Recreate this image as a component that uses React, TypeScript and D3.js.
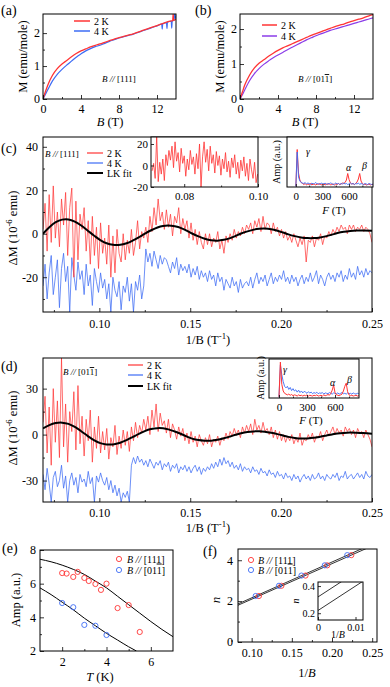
import React, { useEffect, useRef } from 'react';
import * as d3 from 'd3';

const W = 390;
const H = 687;
const FONT = '"Liberation Serif", "Times New Roman", Times, serif';
const RED = '#ff3434';
const BLUE = '#3d6cf5';
const PURPLE = '#8b3de8';

// (a) M(B) for B // [111]
const fieldA2K = [0, 0.25, 0.5, 1, 1.5, 2, 2.5, 3, 3.5, 4, 4.5, 5, 5.5, 6, 6.5, 7, 7.5, 8, 8.5, 9, 9.5, 10, 10.5, 11, 11.5, 12, 12.5, 13, 13.5, 13.65, 13.7, 13.75, 14];
const mA2K = [0, 0.22, 0.42, 0.72, 0.92, 1.06, 1.17, 1.28, 1.38, 1.46, 1.52, 1.58, 1.63, 1.67, 1.72, 1.77, 1.82, 1.86, 1.9, 1.94, 1.98, 2.03, 2.08, 2.13, 2.18, 2.23, 2.28, 2.33, 2.37, 2.38, 2.58, 2.39, 2.42];
const fieldA4K = [0, 0.25, 0.5, 1, 1.5, 2, 2.5, 3, 3.5, 4, 4.5, 5, 5.5, 6, 6.5, 7, 7.5, 8, 8.5, 9, 9.5, 10, 10.5, 11, 11.5, 12, 12.5, 12.55, 12.6, 13, 13.05, 13.1, 13.5, 13.55, 13.6, 13.8, 13.85, 14];
const mA4K = [0, 0.14, 0.28, 0.55, 0.75, 0.9, 1.03, 1.15, 1.27, 1.37, 1.46, 1.53, 1.59, 1.63, 1.69, 1.75, 1.8, 1.85, 1.89, 1.93, 1.97, 2.02, 2.07, 2.12, 2.17, 2.22, 2.27, 2.12, 2.28, 2.32, 2.14, 2.33, 2.36, 2.15, 2.37, 2.39, 2.58, 2.41];

// (b) M(B) for B // [01-1]
const fieldB = [0, 0.25, 0.5, 1, 1.5, 2, 2.5, 3, 3.5, 4, 4.5, 5, 5.5, 6, 6.5, 7, 7.5, 8, 8.5, 9, 9.5, 10, 10.5, 11, 11.5, 12, 12.5, 13, 13.5, 14];
const mB2K = [0, 0.2, 0.4, 0.68, 0.88, 1.02, 1.12, 1.22, 1.31, 1.39, 1.46, 1.52, 1.58, 1.64, 1.7, 1.76, 1.82, 1.87, 1.92, 1.97, 2.02, 2.07, 2.11, 2.15, 2.2, 2.24, 2.28, 2.32, 2.37, 2.41];
const mB4K = [0, 0.12, 0.26, 0.52, 0.72, 0.87, 0.99, 1.09, 1.18, 1.26, 1.33, 1.41, 1.48, 1.55, 1.62, 1.69, 1.75, 1.81, 1.86, 1.91, 1.96, 2.0, 2.04, 2.08, 2.12, 2.16, 2.2, 2.24, 2.28, 2.32];

// (c), (d) oscillating part, sampled evenly in 1/B
const invBStart = 0.069;
const invBEnd = 0.25;
const dmC2K = [
  2, 14, -8, 18, -4, 22, -2, 10, -6, 16,
  4, 19, -10, 12, 21, -20, 15, -12, 9, 2,
  12, -8, 6, -14, 8, -10, 3, -16, 5, -9,
  -2, -14, 4, -20, -1, -18, 2, -9, -13, 0,
  -12, -3, -9, 2, -10, -4, 6, -7, 1, -2,
  3, -4, 8, 1, 12, 4, 16, 6, 10, 2,
  11, 3, 9, -1, 8, 5, 12, 0, 7, 2,
  6, -2, 5, -3, 2, -5, 1, -4, -7, 0,
  -5, 0, -6, -2, -4, 1, -7, -3, -9, -1,
  -4, 0, -3, 2, -2, 1, -1, 3, 0, 4,
  2, 5, 0, 6, 3, 7, 1, 8, 2, 5,
  4, 0, 5, 1, 3, -1, 2, -2, 1, -3,
  -1, -4, 0, -3, -6, -2, -5, -1, -13, -3,
  -4, -1, -6, -2, -3, 0, -5, -1, -2, 1,
  -1, 2, 0, 3, 1, 4, 2, 3, 0, 4,
  2, 4, 1, 3, 2, 4, 1, 3, 2, 0, -4,
];
const dmC4K = [
  -24, -14, -30, -18, -10, -28, -20, -12, -34, -16,
  -9, -22, -15, -36, -11, -19, -26, -13, -21, -17,
  -28, -14, -24, -19, -33, -16, -22, -27, -18, -25,
  -21, -30, -23, -36, -20, -26, -29, -22, -35, -24,
  -27, -20, -31, -23, -36, -22, -26, -19, -30, -24,
  -7, -13, -9, -15, -8, -12, -16, -10, -14, -11,
  -12, -15, -18, -13, -16, -11, -19, -14, -17, -15,
  -18, -14, -20, -16, -19, -15, -21, -17, -20, -18,
  -22, -17, -21, -19, -24, -18, -22, -20, -26, -21,
  -23, -25, -20, -24, -22, -27, -21, -25, -23, -22,
  -24, -20, -25, -21, -18, -23, -20, -22, -19, -24,
  -21, -18, -23, -20, -22, -19, -21, -17, -22, -20,
  -23, -19, -22, -20, -24, -21, -19, -23, -20, -22,
  -18, -22, -20, -17, -23, -19, -21, -24, -20, -18,
  -21, -19, -22, -18, -20, -17, -22, -19, -21, -16,
  -20, -18, -21, -15, -19, -17, -20, -16, -19, -17, -18,
];
const dmD2K = [
  8, 25, -12, 18, -20, 30, -5, 22, -15, 50,
  -8, 20, -18, 15, 2, 28, -10, 32, -6, 12,
  -14, 10, -4, 16, -18, 5, -9, 12, -12, 2,
  -10, 4, -16, -2, -8, 6, -13, -1, -9, 3,
  -7, 2, -11, 5, -4, 8, -2, 6, 1, 10,
  3, 12, 0, 16, 5, 20, 2, 14, 6, 9,
  1, 10, -2, 7, 3, -3, 5, -1, 4, -4,
  1, -6, 2, -5, -1, -8, 0, -4, -7, -2,
  -6, 0, -8, -3, -5, -1, -7, -2, -4, 1,
  -3, 2, -1, 4, 0, 3, -2, 5, 1, 6,
  2, 7, 0, 10, 3, 6, 1, 8, 2, 4,
  0, 5, -2, 3, -3, 2, -4, 0, -5, -1,
  -4, 0, -6, -2, -5, 1, -7, -3, -4, 0,
  -3, 1, -5, -1, -2, 2, -4, 0, 3, -1,
  2, 5, 0, 4, 1, 3, -1, 5, 2, 4,
  0, 3, -2, 4, 1, 2, -2, 3, 0, -3, -8,
];
const dmD4K = [
  -26, -36, -22, -32, -44, -28, -24, -34, -30, -20,
  -35, -27, -44, -30, -25, -33, -28, -38, -26, -31,
  -29, -34, -24, -32, -28, -44, -27, -31, -25, -30,
  -33, -28, -36, -30, -38, -33, -40, -35, -44, -38,
  -41, -37, -44, -20, -15, -19, -14, -18, -16, -20,
  -17, -21, -16, -19, -22, -18, -20, -17, -23, -19,
  -21, -18, -24, -20, -22, -19, -25, -21, -23, -20,
  -24, -21, -25, -22, -20, -24, -21, -26, -22, -24,
  -21, -23, -19, -22, -18, -21, -16, -20, -15, -19,
  -17, -21, -18, -22, -20, -23, -19, -24, -21, -23,
  -22, -25, -21, -24, -23, -26, -22, -25, -24, -27,
  -23, -26, -25, -28, -24, -27, -26, -29, -25, -28,
  -27, -30, -26, -29, -27, -31, -28, -26, -29, -27,
  -30, -26, -29, -28, -25, -29, -27, -30, -26, -28,
  -29, -26, -28, -25, -30, -27, -28, -24, -29, -27,
  -26, -29, -27, -25, -28, -26, -29, -24, -27, -28, -26,
];

// LK fits
const lkInvB = [0.069, 0.0725, 0.076, 0.0795, 0.083, 0.0865, 0.09, 0.0935, 0.097, 0.1005, 0.104, 0.1075, 0.1115, 0.115, 0.1185, 0.122, 0.125, 0.1285, 0.132, 0.135, 0.138, 0.1415, 0.145, 0.148, 0.151, 0.1545, 0.158, 0.1615, 0.165, 0.1685, 0.172, 0.175, 0.178, 0.1815, 0.185, 0.188, 0.191, 0.1945, 0.198, 0.201, 0.204, 0.2075, 0.211, 0.2145, 0.218, 0.2215, 0.225, 0.228, 0.231, 0.2345, 0.238, 0.2415, 0.245, 0.25];
const lkC = [0, 3, 5.3, 6.5, 6.6, 5.6, 3.8, 1.5, -0.8, -2.9, -4.4, -5.1, -5.1, -4.4, -3.1, -1.5, 0, 1.6, 2.9, 3.6, 3.8, 3.4, 2.6, 1.4, 0.1, -1.2, -2.3, -3.0, -3.2, -2.8, -2.0, -1.0, 0.1, 1.1, 1.9, 2.3, 2.4, 2.1, 1.4, 0.6, -0.3, -1.1, -1.7, -2.0, -2.0, -1.7, -1.1, -0.4, 0.3, 0.9, 1.3, 1.5, 1.5, 1.4];
const lkD = [4, 6.2, 7.5, 7.8, 7.0, 5.0, 2.2, -0.8, -3.6, -5.6, -6.4, -6.4, -5.3, -3.6, -1.5, 0.6, 2.3, 3.6, 4.2, 4.1, 3.4, 2.0, 0.4, -1.2, -2.6, -3.6, -4.0, -4.0, -3.4, -2.4, -1.2, -0.1, 0.9, 1.7, 2.1, 2.2, 1.9, 1.2, 0.3, -0.6, -1.5, -2.2, -2.6, -2.5, -2.1, -1.4, -0.6, 0.1, 0.7, 1.1, 1.3, 1.2, 1.0, 0.6];

// (c) zoomed inset, 2 K
const zoomStart = 0.0713;
const zoomEnd = 0.0999;
const dmZoom2K = [
  -5, 2, -12, 27, -15, 3, -8, 6, -14, 10,
  0, 14, 5, 18, -2, 22, 4, 12, -6, 16,
  2, 9, -10, 6, -4, 14, 1, 8, -8, 11,
  -3, 20, -20, 8, 22, 3, 15, -5, 18, 2,
  10, -7, 13, 0, 9, -9, 6, -3, 12, -6,
  4, -11, 7, -2, 10, -8, 3, -12, 5, -5,
  8, -10, 2, -14, 6, -4, -12, 3, -16, -8,
];

// FFT amplitude, F = 0, 15, 30 ... 870 T
const fftStep = 15;
const fftC2K = [
  0.02, 0.75, 0.28, 0.14, 0.09, 0.07, 0.05, 0.07, 0.04, 0.06,
  0.05, 0.07, 0.04, 0.06, 0.05, 0.04, 0.06, 0.05, 0.07, 0.04,
  0.05, 0.06, 0.04, 0.06, 0.05, 0.07, 0.04, 0.05, 0.06, 0.04,
  0.06, 0.05, 0.07, 0.05, 0.06, 0.08, 0.07, 0.09, 0.14, 0.27,
  0.15, 0.08, 0.06, 0.07, 0.05, 0.07, 0.1, 0.16, 0.27, 0.12,
  0.07, 0.05, 0.06, 0.04, 0.05, 0.06, 0.04, 0.05, 0.05,
];
const fftC4K = [
  0.01, 0.7, 0.2, 0.12, 0.09, 0.08, 0.07, 0.09, 0.06, 0.08,
  0.07, 0.05, 0.08, 0.06, 0.07, 0.09, 0.06, 0.07, 0.05, 0.08,
  0.07, 0.06, 0.08, 0.05, 0.07, 0.06, 0.08, 0.07, 0.05, 0.06,
  0.08, 0.06, 0.07, 0.05, 0.07, 0.06, 0.08, 0.06, 0.07, 0.05,
  0.06, 0.08, 0.06, 0.07, 0.05, 0.07, 0.06, 0.08, 0.05, 0.07,
  0.06, 0.05, 0.07, 0.06, 0.05, 0.07, 0.06, 0.05, 0.06,
];
const fftD2K = [
  0.03, 0.92, 0.35, 0.18, 0.12, 0.1, 0.08, 0.1, 0.07, 0.09,
  0.06, 0.08, 0.07, 0.05, 0.08, 0.06, 0.07, 0.05, 0.07, 0.06,
  0.08, 0.05, 0.07, 0.06, 0.05, 0.07, 0.06, 0.08, 0.05, 0.06,
  0.07, 0.05, 0.08, 0.06, 0.07, 0.09, 0.07, 0.12, 0.2, 0.33,
  0.14, 0.08, 0.07, 0.06, 0.08, 0.1, 0.18, 0.3, 0.38, 0.16,
  0.08, 0.06, 0.07, 0.05, 0.06, 0.07, 0.05, 0.06, 0.06,
];
const fftD4K = [
  0.02, 0.85, 0.6, 0.42, 0.3, 0.26, 0.3, 0.22, 0.27, 0.19,
  0.24, 0.18, 0.21, 0.15, 0.2, 0.14, 0.18, 0.13, 0.17, 0.15,
  0.12, 0.16, 0.13, 0.15, 0.11, 0.14, 0.12, 0.15, 0.11, 0.13,
  0.12, 0.14, 0.1, 0.13, 0.12, 0.11, 0.14, 0.12, 0.1, 0.13,
  0.12, 0.11, 0.13, 0.1, 0.12, 0.14, 0.11, 0.12, 0.1, 0.13,
  0.11, 0.12, 0.1, 0.13, 0.11, 0.1, 0.12, 0.11, 0.1,
];

// (e) amplitude vs T
const tempE111 = [2.0, 2.2, 2.5, 2.7, 3.0, 3.2, 3.5, 3.75, 4.0, 4.5, 5.0, 5.5];
const ampE111 = [6.63, 6.6, 6.4, 6.7, 6.34, 6.16, 5.98, 5.63, 6.0, 4.55, 4.73, 3.13];
const tempE011 = [2.0, 2.5, 3.0, 3.5, 4.0];
const ampE011 = [4.85, 4.6, 3.55, 3.5, 2.95];
const fitTempUpper = [1, 1.5, 2, 2.5, 3, 3.5, 4, 4.5, 5, 5.5, 6, 6.5, 7];
const fitAmpUpper = [7.45, 7.3, 7.1, 6.85, 6.55, 6.15, 5.75, 5.25, 4.75, 4.25, 3.75, 3.28, 2.85];
const fitTempLower = [1, 1.5, 2, 2.5, 3, 3.5, 4, 4.5, 5, 5.35];
const fitAmpLower = [5.75, 5.35, 4.9, 4.45, 3.95, 3.5, 3.05, 2.65, 2.25, 2.0];

// (f) Landau fan
const invBF111 = [0.109, 0.137, 0.167, 0.194, 0.224];
const invBF011 = [0.105, 0.134, 0.162, 0.191, 0.219];
const levelN = [2.25, 2.75, 3.25, 3.75, 4.25];
const fitInvB = [0, 0.27];
const fitN111 = [0.354, 5.05];
const fitN011 = [0.408, 5.14];
const insetInvB = [0, 0.012];
const insetN111 = [0.22, 0.436];
const insetN011 = [0.32, 0.536];

const grid = (a: number, b: number, n: number) => d3.range(n).map((i) => a + (i * (b - a)) / (n - 1));

type Part = { t: string; i?: boolean; sup?: boolean; o?: boolean };

// "B // [111]" and "B // [01-1]" labels
const dir111: Part[] = [{ t: 'B', i: true }, { t: ' // ', i: true }, { t: '[111]' }];
const dir011: Part[] = [{ t: 'B', i: true }, { t: ' // ', i: true }, { t: '[01' }, { t: '1', o: true }, { t: ']' }];

function draw(root: any) {
  const defs = root.append('defs');
  let clipN = 0;

  const text = (x: number, y: number, parts: Part[] | string, size: number, anchor = 'start', rotate = false) => {
    const t = root.append('text')
      .attr('x', x).attr('y', y)
      .attr('font-family', FONT).attr('font-size', size)
      .attr('text-anchor', anchor).attr('fill', '#000');
    if (rotate) t.attr('transform', `rotate(-90,${x},${y})`);
    const list = typeof parts === 'string' ? [{ t: parts }] : parts;
    let raised = false;
    list.forEach((p: Part) => {
      const s = t.append('tspan').text(p.t);
      if (p.i) s.attr('font-style', 'italic');
      if (p.o) s.attr('text-decoration', 'overline').style('text-decoration', 'overline');
      if (p.sup) {
        s.attr('dy', -size * 0.4).attr('font-size', size * 0.7);
        raised = true;
      } else if (raised) {
        s.attr('dy', size * 0.4);
        raised = false;
      }
    });
    return t;
  };

  const panel = (box: any, xDom: number[], yDom: number[]) => {
    const id = `clip${clipN++}`;
    defs.append('clipPath').attr('id', id).append('rect')
      .attr('x', box.l).attr('y', box.t).attr('width', box.r - box.l).attr('height', box.b - box.t);
    const x = d3.scaleLinear().domain(xDom).range([box.l, box.r]);
    const y = d3.scaleLinear().domain(yDom).range([box.b, box.t]);
    const g = root.append('g');
    g.append('rect')
      .attr('x', box.l).attr('y', box.t).attr('width', box.r - box.l).attr('height', box.b - box.t)
      .attr('fill', '#fff');
    const plot = g.append('g').attr('clip-path', `url(#${id})`);
    return { box, x, y, g, plot };
  };

  const finish = (p: any, o: any) => {
    const { box, x, y, g } = p;
    const fs = o.fs ?? 12;
    const tl = o.tl ?? 4;
    const style = (s: any) => {
      s.select('.domain').remove();
      s.attr('font-family', FONT).attr('font-size', fs);
      s.selectAll('line').attr('stroke', '#000').attr('stroke-width', 0.8);
      s.selectAll('text').attr('fill', '#000');
    };
    g.append('g').attr('transform', `translate(0,${box.b})`)
      .call(d3.axisBottom(x).tickValues(o.xt).tickFormat(o.xf).tickSizeInner(-tl).tickSizeOuter(0).tickPadding(o.xp ?? 5))
      .call(style);
    if (o.xm) {
      g.append('g').attr('transform', `translate(0,${box.b})`)
        .call(d3.axisBottom(x).tickValues(o.xm).tickFormat(() => '').tickSizeInner(-tl / 2).tickSizeOuter(0))
        .call(style);
    }
    g.append('g').attr('transform', `translate(${box.l},0)`)
      .call(d3.axisLeft(y).tickValues(o.yt).tickFormat(o.yf).tickSizeInner(-tl).tickSizeOuter(0).tickPadding(o.yp ?? 4))
      .call(style);
    if (o.ym) {
      g.append('g').attr('transform', `translate(${box.l},0)`)
        .call(d3.axisLeft(y).tickValues(o.ym).tickFormat(() => '').tickSizeInner(-tl / 2).tickSizeOuter(0))
        .call(style);
    }
    g.append('rect')
      .attr('x', box.l).attr('y', box.t).attr('width', box.r - box.l).attr('height', box.b - box.t)
      .attr('fill', 'none').attr('stroke', '#000').attr('stroke-width', 1);
  };

  const trace = (p: any, xs: number[], ys: number[], color: string, width: number, curve: any = d3.curveLinear, opacity = 1) => {
    const gen = d3.line<number>().x((_, i) => p.x(xs[i])).y((d) => p.y(d)).curve(curve);
    p.plot.append('path')
      .attr('d', gen(ys))
      .attr('fill', 'none').attr('stroke', color).attr('stroke-width', width)
      .attr('stroke-opacity', opacity).attr('stroke-linejoin', 'round');
  };

  const legendLine = (x0: number, x1: number, y: number, color: string, width: number, label: string, size = 10) => {
    root.append('line').attr('x1', x0).attr('x2', x1).attr('y1', y).attr('y2', y)
      .attr('stroke', color).attr('stroke-width', width);
    text(x1 + 4, y + 3.5, label, size);
  };

  const circles = (p: any, xs: number[], ys: number[], color: string) => {
    p.g.append('g').selectAll('circle').data(ys).join('circle')
      .attr('cx', (_: number, i: number) => p.x(xs[i])).attr('cy', (d: number) => p.y(d)).attr('r', 2.6)
      .attr('fill', 'none').attr('stroke', color).attr('stroke-width', 0.9);
  };

  const marker = (cx: number, cy: number, color: string) => {
    root.append('circle').attr('cx', cx).attr('cy', cy).attr('r', 2.6)
      .attr('fill', 'none').attr('stroke', color).attr('stroke-width', 0.9);
  };

  const intFmt = (d: number) => String(d);
  const f2 = d3.format('.2f');

  // ---------- (a)
  const pa = panel({ l: 43, t: 14, r: 176, b: 99 }, [0, 14], [0, 2.58]);
  trace(pa, fieldA4K, mA4K, BLUE, 1.2, d3.curveMonotoneX);
  trace(pa, fieldA2K, mA2K, RED, 1.3, d3.curveMonotoneX);
  finish(pa, { xt: [0, 4, 8, 12], xf: intFmt, xm: [2, 6, 10], yt: [0, 1, 2], yf: intFmt, ym: [0.5, 1.5], yp: 3 });
  legendLine(74, 90, 21, RED, 1.5, '2 K');
  legendLine(74, 90, 31, BLUE, 1.5, '4 K');
  text(102, 82, dir111, 9);
  text(27, 56.5, 'M (emu/mole)', 12.5, 'middle', true);
  text(110, 126, [{ t: 'B', i: true }, { t: ' (T)' }], 12.5, 'middle');
  text(1, 15, '(a)', 14);

  // ---------- (b)
  const pb = panel({ l: 240, t: 14, r: 373, b: 99 }, [0, 14], [0, 2.43]);
  trace(pb, fieldB, mB4K, PURPLE, 1.2, d3.curveMonotoneX);
  trace(pb, fieldB, mB2K, RED, 1.3, d3.curveMonotoneX);
  finish(pb, { xt: [0, 4, 8, 12], xf: intFmt, xm: [2, 6, 10], yt: [0, 1, 2], yf: intFmt, ym: [0.5, 1.5], yp: 3 });
  legendLine(262, 277, 25, RED, 1.5, '2 K');
  legendLine(262, 277, 36, PURPLE, 1.5, '4 K');
  text(298, 82, dir011, 9);
  text(224, 56.5, 'M (emu/mole)', 12.5, 'middle', true);
  text(305, 126, [{ t: 'B', i: true }, { t: ' (T)' }], 12.5, 'middle');
  text(195, 15, '(b)', 14);

  const invB = grid(invBStart, invBEnd, dmC2K.length);
  const xTicks = [0.1, 0.15, 0.2, 0.25];
  const xMinor = [0.075, 0.125, 0.175, 0.225];

  // ---------- (c)
  const pc = panel({ l: 43, t: 137, r: 372, b: 312 }, [invBStart, invBEnd], [-36, 44.5]);
  trace(pc, invB, dmC4K, BLUE, 0.8, d3.curveLinear, 0.95);
  trace(pc, invB, dmC2K, RED, 0.8, d3.curveLinear, 0.9);
  trace(pc, lkInvB, lkC, '#000', 2, d3.curveCatmullRom);
  finish(pc, { xt: xTicks, xf: f2, xm: xMinor, yt: [-20, 0, 20, 40], yf: intFmt, ym: [-30, -10, 10, 30], xp: 7, yp: 5 });
  text(45, 157, dir111, 9);
  legendLine(87, 103, 153, RED, 1.2, '2 K');
  legendLine(87, 103, 163, BLUE, 1.2, '4 K');
  legendLine(87, 103, 173, '#000', 2, 'LK fit');
  text(17, 228, [{ t: '\u0394M (10' }, { t: '-6', sup: true }, { t: ' emu)' }], 12.5, 'middle', true);
  text(208, 344, [{ t: '1/B (T' }, { t: '-1', sup: true }, { t: ')' }], 12.5, 'middle');
  text(1, 153, '(c)', 14);

  // (c) inset: zoom of 2 K data
  const pz = panel({ l: 151, t: 137, r: 258, b: 187 }, [zoomStart - 0.0003, 0.1], [-20, 26.5]);
  trace(pz, grid(zoomStart, zoomEnd, dmZoom2K.length), dmZoom2K, RED, 0.9, d3.curveLinear, 0.9);
  finish(pz, { xt: [0.08, 0.1], xf: f2, xm: [0.09], yt: [-20, 0, 20], yf: intFmt, fs: 11, tl: 3, xp: 5, yp: 3 });

  // (c) inset: FFT
  const fftF = d3.range(fftC2K.length).map((i) => i * fftStep);
  const pfc = panel({ l: 287, t: 137, r: 373, b: 187 }, [-100, 870], [0, 1]);
  trace(pfc, fftF, fftC2K, RED, 1);
  trace(pfc, fftF, fftC4K, BLUE, 1, d3.curveLinear, 0.9);
  finish(pfc, { xt: [0, 300, 600], xf: intFmt, xm: [150, 450, 750], yt: [], yf: intFmt, fs: 11, tl: 3, xp: 5 });
  text(306, 155, [{ t: '\u03B3', i: true }], 10);
  text(346, 171, [{ t: '\u03B1', i: true }], 10);
  text(362, 169, [{ t: '\u03B2', i: true }], 10);
  text(280, 162, 'Amp (a.u.)', 10, 'middle', true);
  text(334, 214, [{ t: 'F', i: true }, { t: ' (T)' }], 11, 'middle');

  // ---------- (d)
  const pd = panel({ l: 43, t: 358, r: 372, b: 502 }, [invBStart, invBEnd], [-44, 50]);
  trace(pd, invB, dmD4K, BLUE, 0.8, d3.curveLinear, 0.95);
  trace(pd, invB, dmD2K, RED, 0.8, d3.curveLinear, 0.9);
  trace(pd, lkInvB, lkD, '#000', 2, d3.curveCatmullRom);
  finish(pd, { xt: xTicks, xf: f2, xm: xMinor, yt: [-30, 0, 30], yf: intFmt, ym: [-15, 15], xp: 6, yp: 5 });
  text(63, 375, dir011, 9);
  legendLine(128, 143, 365, RED, 1.2, '2 K');
  legendLine(128, 143, 375, BLUE, 1.2, '4 K');
  legendLine(128, 143, 386, '#000', 2, 'LK fit');
  text(17, 428, [{ t: '\u0394M (10' }, { t: '-6', sup: true }, { t: ' emu)' }], 12.5, 'middle', true);
  text(208, 532, [{ t: '1/B (T' }, { t: '-1', sup: true }, { t: ')' }], 12.5, 'middle');
  text(1, 371, '(d)', 14);

  // (d) inset: FFT
  const pfd = panel({ l: 269, t: 359, r: 359, b: 398 }, [-107, 857], [0, 1]);
  trace(pfd, fftF, fftD4K, BLUE, 1, d3.curveLinear, 0.9);
  trace(pfd, fftF, fftD2K, RED, 1);
  finish(pfd, { xt: [0, 300, 600], xf: intFmt, xm: [150, 450, 750], yt: [], yf: intFmt, fs: 11, tl: 3, xp: 5 });
  text(283, 373, [{ t: '\u03B3', i: true }], 10);
  text(330, 386, [{ t: '\u03B1', i: true }], 10);
  text(347, 383, [{ t: '\u03B2', i: true }], 10);
  text(264, 378, 'Amp (a.u.)', 10, 'middle', true);
  text(311, 424, [{ t: 'F', i: true }, { t: ' (T)' }], 11, 'middle');

  // ---------- (e)
  const pe = panel({ l: 40, t: 550, r: 173, b: 651 }, [1, 7], [2, 8]);
  trace(pe, fitTempUpper, fitAmpUpper, '#000', 1, d3.curveMonotoneX);
  trace(pe, fitTempLower, fitAmpLower, '#000', 1, d3.curveMonotoneX);
  circles(pe, tempE111, ampE111, RED);
  circles(pe, tempE011, ampE011, BLUE);
  finish(pe, { xt: [2, 4, 6], xf: intFmt, xm: [3, 5], yt: [2, 4, 6, 8], yf: intFmt, ym: [3, 5, 7], xp: 6, yp: 4 });
  marker(119, 559, RED);
  marker(119, 570, BLUE);
  text(127, 562.5, dir111, 10);
  text(127, 573.5, dir011, 10);
  text(20, 600, 'Amp (a.u.)', 12.5, 'middle', true);
  text(100, 681, [{ t: 'T', i: true }, { t: ' (K)' }], 12.5, 'middle');
  text(2, 553, '(e)', 14);

  // ---------- (f)
  const pf = panel({ l: 238, t: 549, r: 377, b: 642 }, [0.083, 0.256], [0, 4.55]);
  trace(pf, fitInvB, fitN111, '#000', 0.8);
  trace(pf, fitInvB, fitN011, '#000', 0.8);
  circles(pf, invBF111, levelN, RED);
  circles(pf, invBF011, levelN, BLUE);
  finish(pf, { xt: xTicks, xf: f2, xm: xMinor, yt: [0, 2, 4], yf: intFmt, ym: [1, 3], xp: 6, yp: 5 });
  marker(251, 560, RED);
  marker(251, 570, BLUE);
  text(258, 563.5, dir111, 10);
  text(258, 573.5, dir011, 10);
  text(220, 600, [{ t: 'n', i: true }], 13, 'middle', true);
  text(307, 677, [{ t: '1/' }, { t: 'B', i: true }], 12.5, 'middle');
  text(203, 556, '(f)', 14);

  // (f) inset
  const pfi = panel({ l: 318, t: 582, r: 363, b: 620 }, [0, 0.012], [0.15, 0.43]);
  trace(pfi, insetInvB, insetN111, '#000', 0.8);
  trace(pfi, insetInvB, insetN011, '#000', 0.8);
  finish(pfi, { xt: [0, 0.01], xf: (d: number) => (d === 0 ? '0' : f2(d)), yt: [0.2, 0.4], yf: d3.format('.1f'), fs: 10, tl: 3, xp: 4, yp: 3 });
  text(299, 601, [{ t: 'n', i: true }], 10, 'middle', true);
  text(338, 638, [{ t: '1/' }, { t: 'B', i: true }], 10, 'middle');
}

const App = () => {
  const ref = useRef<SVGSVGElement>(null);
  useEffect(() => {
    const svg = d3.select(ref.current);
    svg.selectAll('*').remove();
    draw(svg);
  }, []);
  return (
    <svg
      ref={ref}
      width={W}
      height={H}
      viewBox={`0 0 ${W} ${H}`}
      style={{ position: 'absolute', left: 0, top: 0, background: '#fff' }}
    />
  );
};

export default App;
